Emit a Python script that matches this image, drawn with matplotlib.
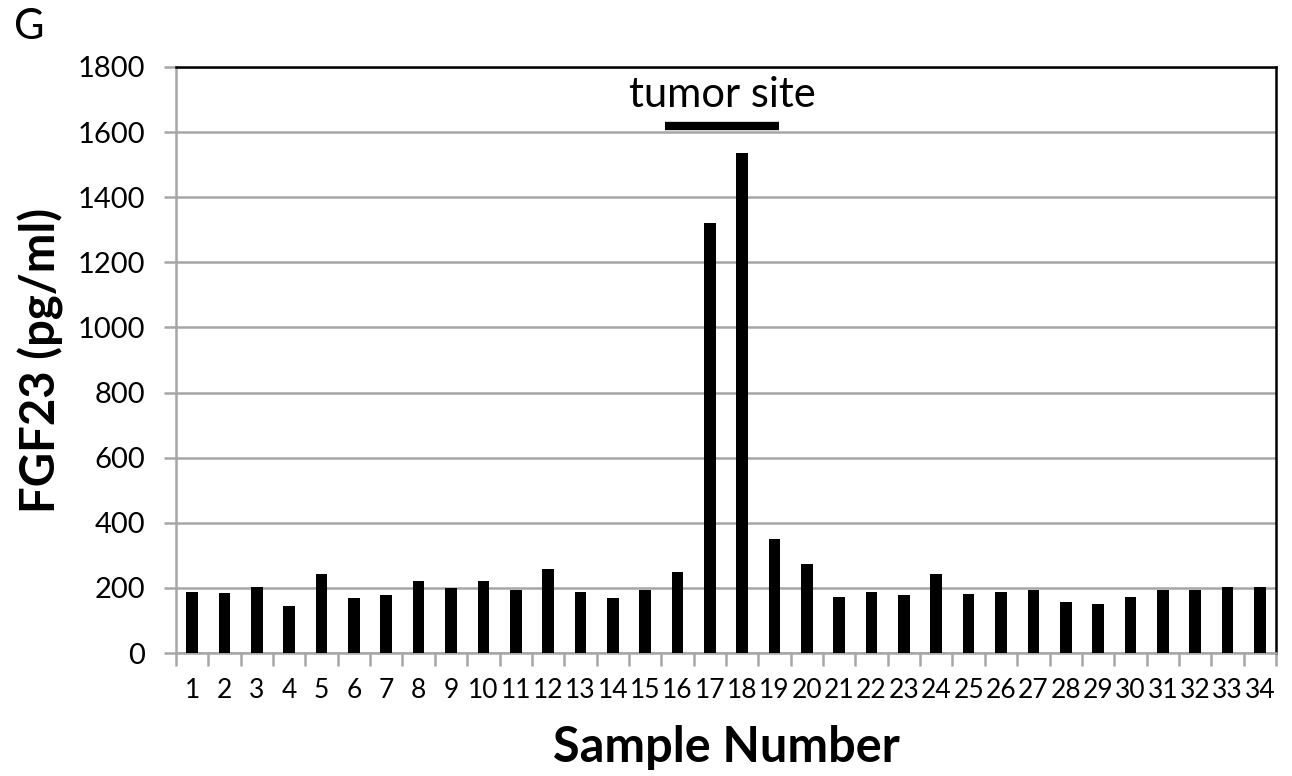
import matplotlib
matplotlib.use('Agg')
import matplotlib.pyplot as plt
import numpy as np

plt.rcParams['font.family'] = ['Lato', 'DejaVu Sans']

samples = list(range(1, 35))
fgf23 = [188, 185, 204, 143, 242, 168, 179, 220, 201, 222,
         194, 259, 188, 170, 193, 248, 1320, 1535, 351, 272,
         173, 186, 177, 244, 180, 186, 192, 156, 152, 172,
         195, 192, 204, 204]

tumor_span = (15.6, 19.15)
tumor_level = 1620

fig = plt.figure(figsize=(12.92, 7.76), dpi=100)
ax = fig.add_axes([0.1362, 0.1585, 0.8514, 0.7552])

grid_col = '#a6a6a6'
ax.bar(samples, fgf23, width=0.36, color='black', zorder=3)

ax.set_xlim(0.5, 34.5)
ax.set_ylim(0, 1800)
ax.set_yticks(np.arange(0, 1801, 200))
ax.yaxis.grid(True, color=grid_col, linewidth=1.8)
ax.set_axisbelow(True)

ax.set_xticks(samples)
ax.set_xticklabels([str(s) for s in samples], fontsize=19)
ax.set_xticks(np.arange(0.5, 35, 1), minor=True)
ax.tick_params(axis='x', which='major', length=0, pad=18)
ax.tick_params(axis='x', which='minor', length=9, width=1.8, color=grid_col)
ax.tick_params(axis='y', length=9, width=1.8, color=grid_col, pad=13, labelsize=21)

for s in ['left', 'bottom']:
    ax.spines[s].set_color(grid_col)
    ax.spines[s].set_linewidth(1.8)
for s in ['top', 'right']:
    ax.spines[s].set_color('black')
    ax.spines[s].set_linewidth(1.8)

ax.plot(tumor_span, [tumor_level, tumor_level], color='black', linewidth=6,
        solid_capstyle='butt', zorder=4, clip_on=False)
ax.text(sum(tumor_span) / 2, 1715, 'tumor site', ha='center', va='center', fontsize=30)

ax.set_xlabel('Sample Number', fontsize=35, fontweight='bold', labelpad=16)
ax.set_ylabel('FGF23 (pg/ml)', fontsize=34, fontweight='bold', labelpad=10)

fig.text(0.011, 0.965, 'G', fontsize=30, va='center', ha='left')

fig.savefig('out.png', dpi=100)
